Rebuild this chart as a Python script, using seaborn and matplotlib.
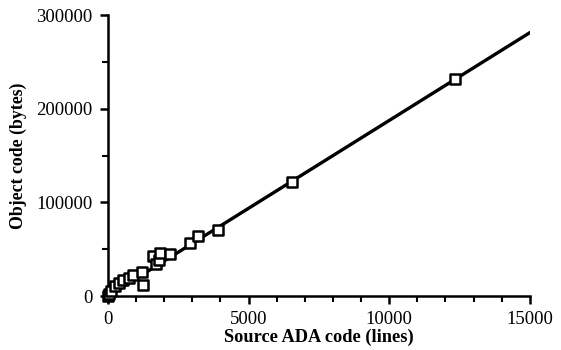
import matplotlib
matplotlib.use("Agg")
import matplotlib.pyplot as plt
from matplotlib.ticker import MultipleLocator, FixedLocator
import numpy as np
import pandas as pd
import seaborn as sns

# Data
source_lines = [0, 30, 100, 250, 400, 550, 750, 900, 1200, 1250,
                1600, 1700, 1800, 1850, 2200, 2900, 3200, 3900, 6550, 12350]
object_bytes = [500, 2000, 5500, 10500, 13500, 17000, 19500, 22000, 25500, 12000,
                43000, 34000, 38500, 45500, 45000, 56500, 64000, 70500, 122000, 232000]
fit_slope = 18.75  # bytes per line, fitted line through origin
x_ticks = [0, 5000, 10000, 15000]
y_ticks = [0, 100000, 200000, 300000]
x_label = "Source ADA code (lines)"
y_label = "Object code (bytes)"

sns.set_style("ticks")
plt.rcParams["font.family"] = ["Liberation Serif", "DejaVu Serif"]
plt.rcParams["text.color"] = "black"
plt.rcParams["axes.labelcolor"] = "black"

df = pd.DataFrame({"x": source_lines, "y": object_bytes})
fit_x = np.array([x_ticks[0], x_ticks[-1]])
fit_df = pd.DataFrame({"x": fit_x, "y": fit_slope * fit_x})

fig = plt.figure(figsize=(5.61, 3.5), dpi=100)
ax = fig.add_axes([0.1925, 0.154, 0.752, 0.803])

sns.lineplot(data=fit_df, x="x", y="y", ax=ax, color="black", linewidth=2.4)
sns.scatterplot(data=df, x="x", y="y", ax=ax, marker="s", s=55,
                facecolor="white", edgecolor="black", linewidth=1.8,
                zorder=3, clip_on=False)

ax.set_xlim(x_ticks[0], x_ticks[-1])
ax.set_ylim(y_ticks[0], y_ticks[-1])
ax.xaxis.set_major_locator(FixedLocator(x_ticks))
ax.yaxis.set_major_locator(FixedLocator(y_ticks))
ax.xaxis.set_minor_locator(MultipleLocator(1000))
ax.yaxis.set_minor_locator(MultipleLocator(50000))
ax.set_xticklabels([str(v) for v in x_ticks])
ax.set_yticklabels([str(v) for v in y_ticks])

for s in ["top", "right"]:
    ax.spines[s].set_visible(False)
for s in ["left", "bottom"]:
    ax.spines[s].set_linewidth(1.8)
    ax.spines[s].set_color("black")

ax.tick_params(axis="both", which="major", length=6, width=1.8,
               labelsize=13.5, colors="black", labelcolor="black", pad=5)
ax.tick_params(axis="both", which="minor", length=4, width=1.5, colors="black")

ax.set_xlabel(x_label, fontsize=13.2, fontweight="bold", labelpad=0,
              color="black")
ax.set_ylabel(y_label, fontsize=12.8, fontweight="bold", labelpad=7,
              color="black")

fig.savefig("out.png", dpi=100)
